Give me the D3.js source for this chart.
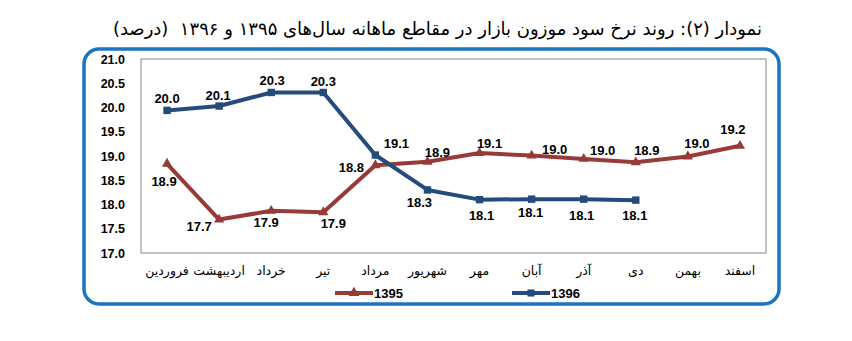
<!DOCTYPE html>
<html>
<head>
<meta charset="utf-8">
<title>نمودار ۲</title>
<script src="https://d3js.org/d3.v7.min.js"></script>
<style>
  body { margin: 0; background: #fff; }
  .tick text, .val { font-family: "Liberation Sans", Arial, sans-serif; font-weight: bold; }
  .cat { font-family: "DejaVu Sans", "Noto Sans", sans-serif; font-size: 12.5px; }
</style>
</head>
<body>
<script>
  // months (Persian calendar), left to right
  var months = ["فروردین", "اردیبهشت", "خرداد", "تیر", "مرداد", "شهریور",
                "مهر", "آبان", "آذر", "دی", "بهمن", "اسفند"];
  // 1395 series (values as plotted) and their printed labels
  var values1395 = [18.84, 17.69, 17.87, 17.84, 18.81, 18.88, 19.06, 19.01, 18.94, 18.87, 18.99, 19.21];
  var labels1395 = ["18.9", "17.7", "17.9", "17.9", "18.8", "18.9", "19.1", "19.0", "19.0", "18.9", "19.0", "19.2"];
  // 1396 series (only up to دی)
  var values1396 = [19.94, 20.03, 20.31, 20.31, 19.02, 18.30, 18.10, 18.11, 18.11, 18.09];
  var labels1396 = ["20.0", "20.1", "20.3", "20.3", "19.1", "18.3", "18.1", "18.1", "18.1", "18.1"];
  var yTicks = [17.0, 17.5, 18.0, 18.5, 19.0, 19.5, 20.0, 20.5, 21.0];

  // label offsets relative to each point (layout only)
  var off1395 = [[-3, 22], [-20, 11], [-5, 16], [10, 16], [-24, 7], [10, -5], [10, -5], [23, -2], [19, -4], [11, -7], [9, -8], [-7, -12]];
  var off1396 = [[0, -7], [-1, -6], [1, -7], [0, -6], [21, -7], [-8, 17], [2, 20], [-1, 18], [-2, 21], [-1, 20]];

  var W = 852, H = 341;
  var svg = d3.select("body").append("svg").attr("width", W).attr("height", H);

  var red = "#983a38", blue = "#254a7c";

  // title
  svg.append("text")
    .attr("x", 762).attr("y", 35)
    .attr("direction", "rtl")
    .attr("text-anchor", "start")
    .style("white-space", "pre")
    .style("font-family", "\"DejaVu Sans\", \"Noto Sans\", sans-serif")
    .style("font-size", "18px")
    .text("نمودار (۲): روند نرخ سود موزون بازار در مقاطع ماهانه سال‌های ۱۳۹۵ و ۱۳۹۶  (درصد)");

  // outer rounded frame
  svg.append("rect")
    .attr("x", 84).attr("y", 49).attr("width", 695).attr("height", 255)
    .attr("rx", 15).attr("ry", 15)
    .attr("fill", "none").attr("stroke", "#1a73c4").attr("stroke-width", 3.5);

  var x = d3.scaleBand().domain(months).range([141, 766]);
  var y = d3.scaleLinear().domain([17, 21]).range([253, 59]);

  // plot frame
  svg.append("rect")
    .attr("x", 141).attr("y", 59).attr("width", 625).attr("height", 194)
    .attr("fill", "none").attr("stroke", "#868686").attr("stroke-width", 1);

  var yAxis = svg.append("g").attr("transform", "translate(141,0)")
    .call(d3.axisLeft(y).tickValues(yTicks).tickFormat(d3.format(".1f")).tickSize(0).tickPadding(16));
  yAxis.select(".domain").remove();
  yAxis.selectAll("text").style("font-size", "12.5px").attr("fill", "#000");

  // category labels
  svg.selectAll(".cat").data(months).enter().append("text")
    .attr("class", "cat")
    .attr("x", function (d) { return x(d) + x.bandwidth() / 2; })
    .attr("y", 275)
    .attr("text-anchor", "middle")
    .attr("direction", "rtl")
    .text(function (d) { return d; });

  var cx = function (d, i) { return x(months[i]) + x.bandwidth() / 2; };
  var line = d3.line().x(cx).y(function (d) { return y(d); });

  function series(vals, labels, offs, color, marker) {
    svg.append("path").datum(vals)
      .attr("d", line).attr("fill", "none")
      .attr("stroke", color).attr("stroke-width", 4).attr("stroke-linejoin", "round");
    svg.selectAll(null).data(vals).enter().append("path")
      .attr("transform", function (d, i) { return "translate(" + cx(d, i) + "," + y(d) + ")"; })
      .attr("d", d3.symbol().type(marker).size(marker === d3.symbolSquare ? 55 : 45))
      .attr("fill", color);
    svg.selectAll(null).data(vals).enter().append("text")
      .attr("class", "val")
      .attr("x", function (d, i) { return cx(d, i) + offs[i][0]; })
      .attr("y", function (d, i) { return y(d) + offs[i][1]; })
      .attr("text-anchor", "middle")
      .style("font-size", "13px")
      .text(function (d, i) { return labels[i]; });
  }

  series(values1395, labels1395, off1395, red, d3.symbolTriangle);
  series(values1396, labels1396, off1396, blue, d3.symbolSquare);

  // legend
  var legend = [{ name: "1395", color: red, sym: d3.symbolTriangle, x: 335 },
                { name: "1396", color: blue, sym: d3.symbolSquare, x: 512 }];
  legend.forEach(function (l) {
    svg.append("line")
      .attr("x1", l.x).attr("x2", l.x + 38).attr("y1", 293).attr("y2", 293)
      .attr("stroke", l.color).attr("stroke-width", 4);
    svg.append("path")
      .attr("transform", "translate(" + (l.x + 19) + ",293)")
      .attr("d", d3.symbol().type(l.sym).size(50))
      .attr("fill", l.color);
    svg.append("text")
      .attr("class", "val")
      .attr("x", l.x + 39).attr("y", 298)
      .style("font-size", "13px")
      .text(l.name);
  });
</script>
</body>
</html>
